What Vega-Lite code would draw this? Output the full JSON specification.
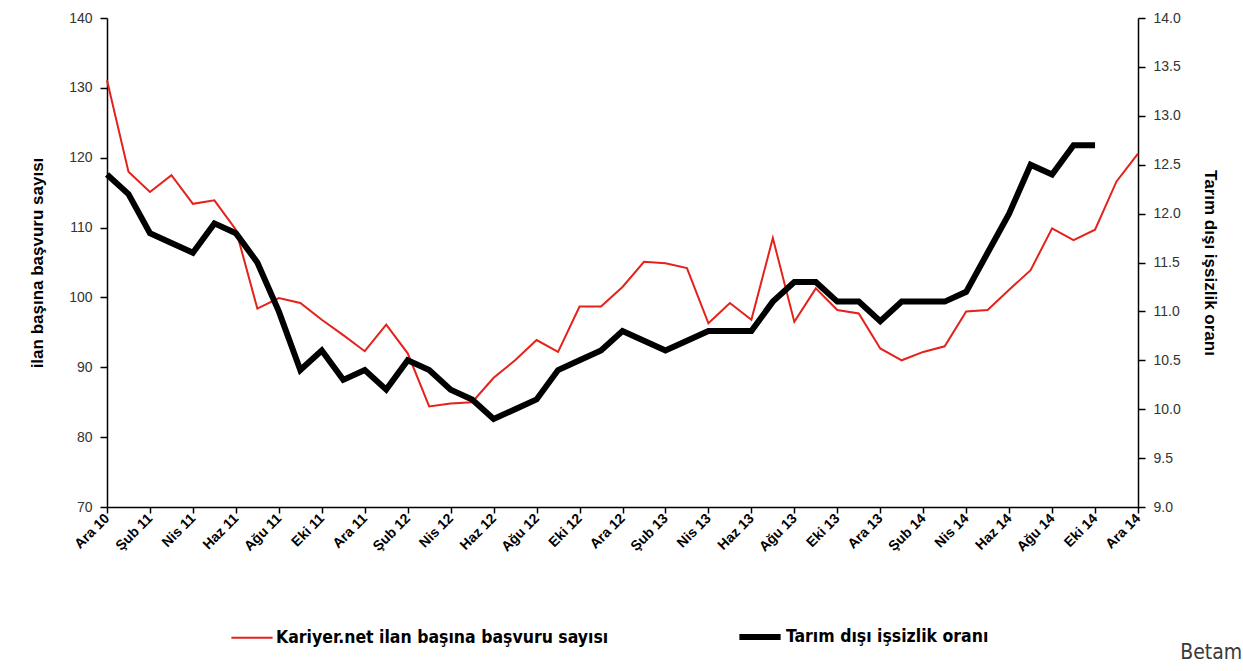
{
  "$schema": "https://vega.github.io/schema/vega-lite/v6.json",
  "width": 1031,
  "height": 489,
  "autosize": {"type": "none"},
  "padding": {"left": 107, "top": 18, "right": 105, "bottom": 164},
  "background": "white",
  "title": {"text": "Betam", "orient": "bottom", "anchor": "end", "dx": 24, "offset": -7, "font": "DejaVu Sans Condensed", "fontSize": 21, "fontWeight": "normal", "color": "#3a3a3a"},
  "config": {
    "view": {"stroke": null},
    "font": "Liberation Sans",
    "axis": {"grid": false, "domainColor": "#000", "tickColor": "#000", "domainWidth": 1.5, "tickWidth": 1.5, "labelColor": "#333", "labelFontSize": 14, "titleFontSize": 17, "titleFontWeight": "bold", "titleColor": "#000"},
    "legend": {"orient": "none", "legendX": 123, "legendY": 595, "direction": "horizontal", "title": null, "symbolType": "stroke", "symbolSize": 1700, "labelFont": "DejaVu Sans Condensed", "labelFontSize": 17.5, "labelFontWeight": "bold", "labelColor": "#000", "labelLimit": 0, "columnPadding": 118, "labelOffset": 2, "symbolStrokeColor": "#000"}
  },
  "data": {"values": [
    {"ay": "Ara 10", "basvuru": 131.1, "issizlik": 12.4},
    {"ay": "Oca 11", "basvuru": 118.0, "issizlik": 12.2},
    {"ay": "Şub 11", "basvuru": 115.1, "issizlik": 11.8},
    {"ay": "Mar 11", "basvuru": 117.5, "issizlik": 11.7},
    {"ay": "Nis 11", "basvuru": 113.4, "issizlik": 11.6},
    {"ay": "May 11", "basvuru": 113.9, "issizlik": 11.9},
    {"ay": "Haz 11", "basvuru": 109.7, "issizlik": 11.8},
    {"ay": "Tem 11", "basvuru": 98.4, "issizlik": 11.5},
    {"ay": "Ağu 11", "basvuru": 99.9, "issizlik": 11.0},
    {"ay": "Eyl 11", "basvuru": 99.2, "issizlik": 10.4},
    {"ay": "Eki 11", "basvuru": 96.8, "issizlik": 10.6},
    {"ay": "Kas 11", "basvuru": 94.6, "issizlik": 10.3},
    {"ay": "Ara 11", "basvuru": 92.3, "issizlik": 10.4},
    {"ay": "Oca 12", "basvuru": 96.1, "issizlik": 10.2},
    {"ay": "Şub 12", "basvuru": 92.0, "issizlik": 10.5},
    {"ay": "Mar 12", "basvuru": 84.4, "issizlik": 10.4},
    {"ay": "Nis 12", "basvuru": 84.8, "issizlik": 10.2},
    {"ay": "May 12", "basvuru": 85.0, "issizlik": 10.1},
    {"ay": "Haz 12", "basvuru": 88.5, "issizlik": 9.9},
    {"ay": "Tem 12", "basvuru": 91.0, "issizlik": 10.0},
    {"ay": "Ağu 12", "basvuru": 93.9, "issizlik": 10.1},
    {"ay": "Eyl 12", "basvuru": 92.2, "issizlik": 10.4},
    {"ay": "Eki 12", "basvuru": 98.7, "issizlik": 10.5},
    {"ay": "Kas 12", "basvuru": 98.7, "issizlik": 10.6},
    {"ay": "Ara 12", "basvuru": 101.5, "issizlik": 10.8},
    {"ay": "Oca 13", "basvuru": 105.1, "issizlik": 10.7},
    {"ay": "Şub 13", "basvuru": 104.9, "issizlik": 10.6},
    {"ay": "Mar 13", "basvuru": 104.2, "issizlik": 10.7},
    {"ay": "Nis 13", "basvuru": 96.3, "issizlik": 10.8},
    {"ay": "May 13", "basvuru": 99.2, "issizlik": 10.8},
    {"ay": "Haz 13", "basvuru": 96.8, "issizlik": 10.8},
    {"ay": "Tem 13", "basvuru": 108.5, "issizlik": 11.1},
    {"ay": "Ağu 13", "basvuru": 96.5, "issizlik": 11.3},
    {"ay": "Eyl 13", "basvuru": 101.3, "issizlik": 11.3},
    {"ay": "Eki 13", "basvuru": 98.2, "issizlik": 11.1},
    {"ay": "Kas 13", "basvuru": 97.7, "issizlik": 11.1},
    {"ay": "Ara 13", "basvuru": 92.7, "issizlik": 10.9},
    {"ay": "Oca 14", "basvuru": 91.0, "issizlik": 11.1},
    {"ay": "Şub 14", "basvuru": 92.2, "issizlik": 11.1},
    {"ay": "Mar 14", "basvuru": 93.0, "issizlik": 11.1},
    {"ay": "Nis 14", "basvuru": 98.0, "issizlik": 11.2},
    {"ay": "May 14", "basvuru": 98.2, "issizlik": 11.6},
    {"ay": "Haz 14", "basvuru": 101.1, "issizlik": 12.0},
    {"ay": "Tem 14", "basvuru": 103.9, "issizlik": 12.5},
    {"ay": "Ağu 14", "basvuru": 109.9, "issizlik": 12.4},
    {"ay": "Eyl 14", "basvuru": 108.2, "issizlik": 12.7},
    {"ay": "Eki 14", "basvuru": 109.7, "issizlik": 12.7},
    {"ay": "Kas 14", "basvuru": 116.6, "issizlik": null},
    {"ay": "Ara 14", "basvuru": 120.6, "issizlik": null}
  ]},
  "encoding": {
    "x": {
      "field": "ay", "type": "ordinal", "sort": null,
      "scale": {"type": "point", "padding": 0},
      "axis": {
        "title": null,
        "values": ["Ara 10","Şub 11","Nis 11","Haz 11","Ağu 11","Eki 11","Ara 11","Şub 12","Nis 12","Haz 12","Ağu 12","Eki 12","Ara 12","Şub 13","Nis 13","Haz 13","Ağu 13","Eki 13","Ara 13","Şub 14","Nis 14","Haz 14","Ağu 14","Eki 14","Ara 14"],
        "labelAngle": -45, "labelAlign": "right", "labelBaseline": "middle",
        "labelFontWeight": "bold", "labelFontSize": 14, "labelColor": "#000",
        "tickSize": 6, "labelPadding": 3
      }
    }
  },
  "layer": [
    {
      "mark": {"type": "line"},
      "encoding": {
        "y": {
          "field": "basvuru", "type": "quantitative",
          "scale": {"domain": [70, 140], "nice": false, "zero": false},
          "axis": {"title": "ilan başına başvuru sayısı", "values": [70,80,90,100,110,120,130,140], "tickSize": 7, "labelPadding": 8, "titlePadding": 22}
        },
        "color": {"datum": "Kariyer.net ilan başına başvuru sayısı", "type": "nominal", "scale": {"domain": ["Kariyer.net ilan başına başvuru sayısı", "Tarım dışı işsizlik oranı"], "range": ["#e3221c", "#000000"]}},
        "strokeWidth": {"datum": "Kariyer.net ilan başına başvuru sayısı", "type": "ordinal", "scale": {"domain": ["Kariyer.net ilan başına başvuru sayısı", "Tarım dışı işsizlik oranı"], "range": [2, 6]}}
      }
    },
    {
      "mark": {"type": "line"},
      "encoding": {
        "y": {
          "field": "issizlik", "type": "quantitative",
          "scale": {"domain": [9, 14], "nice": false, "zero": false},
          "axis": {"title": "Tarım dışı işsizlik oranı", "orient": "right", "values": [9,9.5,10,10.5,11,11.5,12,12.5,13,13.5,14], "format": ".1f", "tickSize": 7, "labelPadding": 8, "titlePadding": 20}
        },
        "color": {"datum": "Tarım dışı işsizlik oranı", "type": "nominal"},
        "strokeWidth": {"datum": "Tarım dışı işsizlik oranı", "type": "ordinal"}
      }
    }
  ],
  "resolve": {"scale": {"y": "independent"}}
}
